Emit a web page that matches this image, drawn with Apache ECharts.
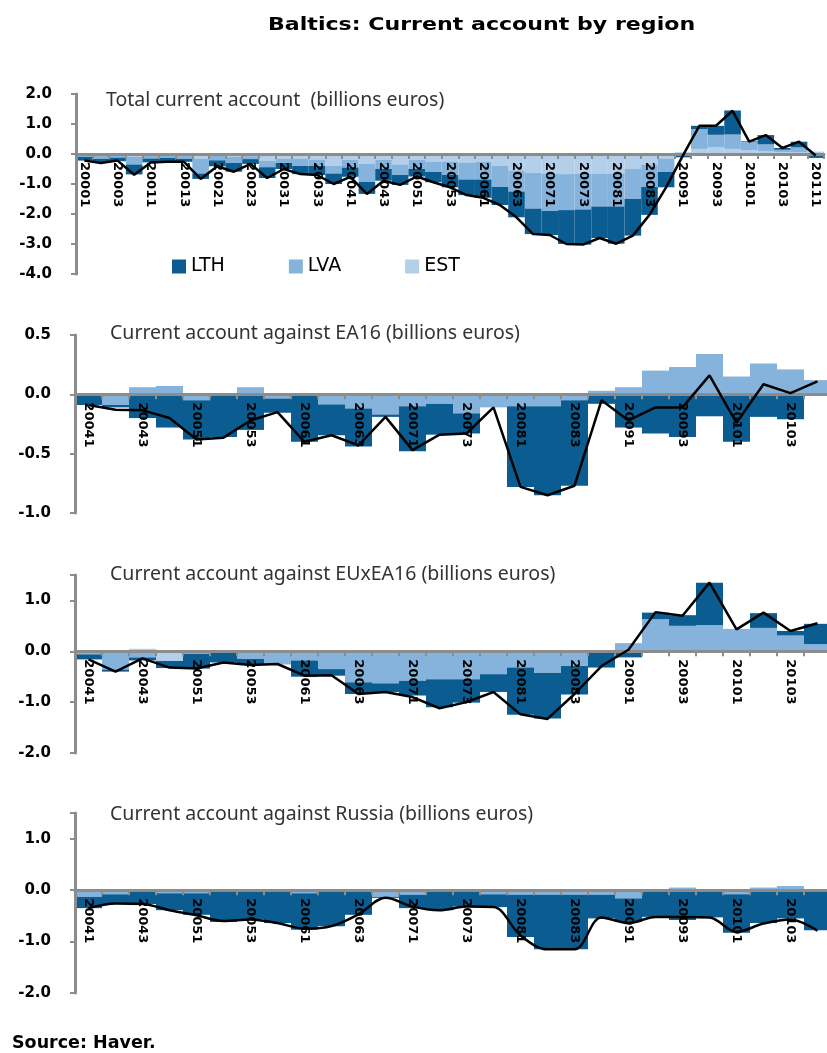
<!DOCTYPE html>
<html>
<head>
<meta charset="utf-8">
<title>Baltics: Current account by region</title>
<script src="https://cdn.jsdelivr.net/npm/echarts@6.0.0/dist/echarts.min.js"></script>
<style>
  html, body { margin: 0; padding: 0; background: #fff; }
  #chart { width: 827px; height: 1053px; }
</style>
</head>
<body>
<div id="chart"></div>
<script>
// quarter labels: year + quarter digit
const quartersTotal = [
  '20001', '20002', '20003', '20004', '20011', '20012', '20013', '20014',
  '20021', '20022', '20023', '20024', '20031', '20032', '20033', '20034',
  '20041', '20042', '20043', '20044', '20051', '20052', '20053', '20054',
  '20061', '20062', '20063', '20064', '20071', '20072', '20073', '20074',
  '20081', '20082', '20083', '20084', '20091', '20092', '20093', '20094',
  '20101', '20102', '20103', '20104', '20111'
]
const quartersPartner = [
  '20041', '20042', '20043', '20044', '20051', '20052', '20053', '20054',
  '20061', '20062', '20063', '20064', '20071', '20072', '20073', '20074',
  '20081', '20082', '20083', '20084', '20091', '20092', '20093', '20094',
  '20101', '20102', '20103', '20104'
]

// total current account, billions euros
const estTotal = [
  -0.04, -0.06, -0.05, -0.10, -0.05, -0.05, -0.06, -0.15, -0.06, -0.10, -0.07, -0.22,
  -0.15, -0.15, -0.18, -0.40, -0.20, -0.33, -0.20, -0.35, -0.20, -0.25, -0.25, -0.30,
  -0.25, -0.40, -0.55, -0.62, -0.65, -0.67, -0.65, -0.65, -0.65, -0.50, -0.35, -0.15,
  -0.05, 0.17, 0.22, 0.17, 0.12, 0.10, 0.06, 0.05, 0.08
]
const lvaTotal = [
  -0.06, -0.10, -0.07, -0.25, -0.10, -0.08, -0.10, -0.50, -0.15, -0.20, -0.10, -0.22,
  -0.15, -0.25, -0.22, -0.25, -0.25, -0.60, -0.30, -0.35, -0.30, -0.35, -0.45, -0.55,
  -0.60, -0.70, -0.70, -1.20, -1.25, -1.20, -1.20, -1.10, -1.10, -1.00, -0.75, -0.45,
  0.05, 0.66, 0.42, 0.48, 0.29, 0.22, 0.08, 0.17, -0.05
]
const lthTotal = [
  -0.12, -0.14, -0.12, -0.33, -0.13, -0.13, -0.10, -0.18, -0.20, -0.29, -0.16, -0.36,
  -0.20, -0.27, -0.30, -0.35, -0.31, -0.40, -0.39, -0.33, -0.25, -0.34, -0.41, -0.52,
  -0.61, -0.60, -0.86, -0.85, -0.80, -1.13, -1.17, -1.05, -1.24, -1.22, -0.93, -0.51,
  -0.06, 0.11, 0.30, 0.80, 0.02, 0.31, 0.06, 0.19, -0.08
]
const sumTotal = [
  -0.22, -0.30, -0.22, -0.69, -0.28, -0.26, -0.26, -0.83, -0.41, -0.59, -0.33, -0.80,
  -0.50, -0.67, -0.70, -1.00, -0.76, -1.33, -0.89, -1.03, -0.75, -0.94, -1.11, -1.37,
  -1.46, -1.70, -2.11, -2.67, -2.70, -3.00, -3.02, -2.80, -2.99, -2.72, -2.03, -1.11,
  -0.06, 0.94, 0.94, 1.44, 0.41, 0.63, 0.20, 0.41, -0.05
]

// against EA16
const lvaEA16 = [
  -0.01, -0.09, 0.06, 0.07, -0.05, -0.01, 0.06, -0.035, -0.01, -0.085, -0.12, -0.17,
  -0.10, -0.08, -0.16, -0.11, -0.10, -0.10, -0.05, 0.03, 0.06, 0.20, 0.23, 0.34,
  0.15, 0.26, 0.21, 0.12
]
const lthEA16 = [
  -0.08, -0.02, -0.20, -0.28, -0.33, -0.35, -0.30, -0.12, -0.39, -0.26, -0.32, -0.02,
  -0.38, -0.26, -0.17, 0.00, -0.68, -0.75, -0.72, -0.08, -0.28, -0.33, -0.36, -0.185,
  -0.40, -0.19, -0.21, 0.00
]
const sumEA16 = [
  -0.09, -0.13, -0.135, -0.20, -0.38, -0.365, -0.22, -0.15, -0.40, -0.345, -0.43, -0.19,
  -0.47, -0.34, -0.33, -0.11, -0.78, -0.85, -0.77, -0.05, -0.22, -0.11, -0.11, 0.16,
  -0.24, 0.085, 0.01, 0.11
]

// against EU excluding EA16
const estEUx = [
  0, 0, 0.05, -0.19, 0, 0, 0, 0, 0, 0, 0, 0,
  0, 0, 0, 0, 0, 0, 0, 0, 0, 0, 0, 0,
  0, 0, 0, 0
]
const lvaEUx = [
  -0.06, -0.36, -0.12, 0, -0.05, -0.02, -0.15, -0.26, -0.18, -0.35, -0.61, -0.63,
  -0.58, -0.55, -0.55, -0.45, -0.32, -0.42, -0.29, 0, 0.16, 0.63, 0.50, 0.51,
  0.44, 0.46, 0.31, 0.14
]
const lthEUx = [
  -0.10, -0.04, -0.06, -0.14, -0.29, -0.20, -0.12, 0, -0.32, -0.13, -0.23, -0.17,
  -0.29, -0.55, -0.46, -0.35, -0.93, -0.90, -0.56, -0.32, -0.12, 0.13, 0.21, 0.84,
  -0.02, 0.29, 0.09, 0.40
]
const sumEUx = [
  -0.16, -0.40, -0.14, -0.32, -0.34, -0.22, -0.27, -0.25, -0.48, -0.47, -0.84, -0.80,
  -0.90, -1.12, -1.00, -0.80, -1.24, -1.33, -0.84, -0.29, 0.03, 0.77, 0.70, 1.35,
  0.43, 0.76, 0.40, 0.55
]

// against Russia
const lvaRussia = [
  -0.13, -0.08, 0, -0.06, -0.06, 0, 0, 0, -0.06, 0, 0, -0.13,
  -0.09, 0, 0, -0.08, -0.09, -0.09, -0.09, -0.09, -0.16, 0, 0.05, 0,
  -0.08, 0.05, 0.08, 0
]
const lthRussia = [
  -0.22, -0.19, -0.27, -0.33, -0.42, -0.62, -0.57, -0.64, -0.71, -0.70, -0.48, -0.02,
  -0.26, -0.39, -0.32, -0.25, -0.82, -1.06, -1.06, -0.46, -0.46, -0.52, -0.58, -0.53,
  -0.75, -0.64, -0.55, -0.78
]
const sumRussia = [
  -0.35, -0.26, -0.27, -0.39, -0.49, -0.60, -0.57, -0.64, -0.75, -0.70, -0.47, -0.15,
  -0.32, -0.39, -0.32, -0.33, -0.88, -1.15, -1.15, -0.53, -0.64, -0.52, -0.52, -0.53,
  -0.81, -0.65, -0.57, -0.79
]

// y-axis ticks per panel (the two lower panels run up to 1.5 without a label)
const yTicksTotal = [-4, -3, -2, -1, 0, 1, 2]
const yTicksEA16 = [-1, -0.5, 0, 0.5]
const yTicksEUx = [-2, -1, 0, 1]
const yTicksRussia = [-2, -1, 0, 1]
const yTopLower = 1.5

const colors = { LTH: '#0b5d91', LVA: '#86b3db', EST: '#b3cfe9' }
const axisGray = '#8c8c8c'

const panels = [
  { title: 'Total current account  (billions euros)', titleLeft: 106, titleTop: 90,
    grid: { left: 76, top: 94, width: 748, height: 180 },
    cats: quartersTotal, ticks: yTicksTotal, top: 2,
    bars: { EST: estTotal, LVA: lvaTotal, LTH: lthTotal }, line: sumTotal, smooth: false },
  { title: 'Current account against EA16 (billions euros)', titleLeft: 110, titleTop: 323,
    grid: { left: 75, top: 335, width: 756, height: 178 },
    cats: quartersPartner, ticks: yTicksEA16, top: 0.5,
    bars: { LVA: lvaEA16, LTH: lthEA16 }, line: sumEA16, smooth: false },
  { title: 'Current account against EUxEA16 (billions euros)', titleLeft: 110, titleTop: 564,
    grid: { left: 75, top: 575, width: 756, height: 178 },
    cats: quartersPartner, ticks: yTicksEUx, top: yTopLower,
    bars: { EST: estEUx, LVA: lvaEUx, LTH: lthEUx }, line: sumEUx, smooth: false },
  { title: 'Current account against Russia (billions euros)', titleLeft: 110, titleTop: 804,
    grid: { left: 75, top: 813, width: 756, height: 180 },
    cats: quartersPartner, ticks: yTicksRussia, top: yTopLower,
    bars: { LVA: lvaRussia, LTH: lthRussia }, line: sumRussia, smooth: 0.35 }
]

const chart = echarts.init(document.getElementById('chart'), null, { renderer: 'canvas' })

const grids = []
const xAxes = []
const yAxes = []
const series = []
const titles = [
  { text: 'Source: Haver.', left: 12, top: 1034, padding: 0,
    textStyle: { fontFamily: 'DejaVu Sans', fontWeight: 'bold', fontSize: 17.5, color: '#000' } }
]

panels.forEach((p, i) => {
  const min = p.ticks[0]
  // move the category axis (line, ticks, labels) up from the grid bottom to y = 0
  const zeroOffset = -p.grid.height * (0 - min) / (p.top - min)
  grids.push(Object.assign({ containLabel: false, outerBoundsMode: 'none' }, p.grid))
  titles.push({
    text: p.title, left: p.titleLeft, top: p.titleTop, padding: 0,
    textStyle: { fontFamily: 'Noto Sans', fontWeight: 'normal', fontSize: 19.5, color: '#333' }
  })
  xAxes.push({
    type: 'category', gridIndex: i, data: p.cats, boundaryGap: true, z: 3,
    position: 'bottom', offset: zeroOffset,
    axisLine: { onZero: false, lineStyle: { color: axisGray, width: 3 } },
    axisTick: { show: true, interval: 0, length: 5, lineStyle: { color: axisGray, width: 2 } },
    axisLabel: {
      interval: 1, rotate: -90, margin: 8, color: '#000',
      fontFamily: 'DejaVu Sans', fontWeight: 'bold', fontSize: 13
    },
    splitLine: { show: false }
  })
  yAxes.push({
    type: 'value', gridIndex: i, z: 3,
    min: min, max: p.top, interval: p.ticks[1] - p.ticks[0],
    axisLine: { show: true, onZero: false, lineStyle: { color: axisGray, width: 3 } },
    axisTick: { show: true, length: 5, lineStyle: { color: axisGray, width: 2 } },
    axisLabel: {
      margin: 24, color: '#000', fontFamily: 'DejaVu Sans', fontWeight: 'bold', fontSize: 15,
      formatter: v => (p.ticks.indexOf(v) < 0 ? '' : v.toFixed(1))
    },
    splitLine: { show: false }
  })
  // EST sits next to zero, then LVA, then LTH
  Object.keys(p.bars).forEach(name => {
    series.push({
      name: name, type: 'bar', stack: 'panel' + i,
      xAxisIndex: i, yAxisIndex: i,
      data: p.bars[name], barCategoryGap: '0%',
      itemStyle: { color: colors[name] }, z: 2
    })
  })
  series.push({
    name: 'Total', type: 'line', xAxisIndex: i, yAxisIndex: i,
    data: p.line, symbol: 'none', smooth: p.smooth,
    lineStyle: { color: '#000', width: 2.5 }, itemStyle: { color: '#000' }, z: 5
  })
})

chart.setOption({
  animation: false,
  backgroundColor: '#fff',
  title: titles,
  // the heading in the source is set wide, so stretch it horizontally
  graphic: [{
    type: 'text', x: 268, y: 17, scaleX: 1.3,
    style: {
      text: 'Baltics: Current account by region',
      fontFamily: 'DejaVu Sans', fontWeight: 'bold', fontSize: 17, fill: '#000'
    }
  }],
  legend: {
    data: ['LTH', 'LVA', 'EST'], left: 172, top: 257, padding: 0,
    icon: 'rect', itemWidth: 14, itemHeight: 14, itemGap: 64,
    textStyle: { fontFamily: 'DejaVu Sans', fontSize: 19, color: '#000' }
  },
  grid: grids,
  xAxis: xAxes,
  yAxis: yAxes,
  series: series
})
</script>
</body>
</html>
